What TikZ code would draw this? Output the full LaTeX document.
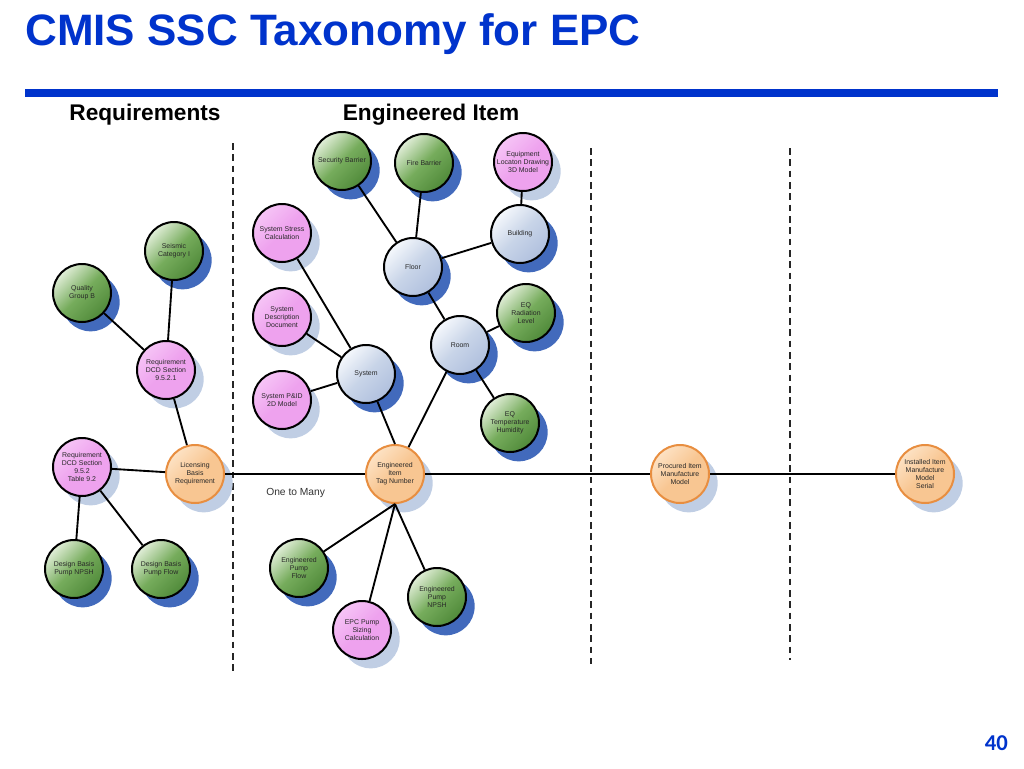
\documentclass[tikz,border=0pt]{standalone}
\usepackage{fontspec}
\setmainfont{Liberation Sans}
\newfontfamily\numfont{Carlito}
\usepackage{tikz}
\usetikzlibrary{shadows}

\definecolor{titleblue}{RGB}{0,51,204}
\definecolor{greenlight}{RGB}{225,238,216}
\definecolor{greenmid}{RGB}{118,172,92}
\definecolor{greendark}{RGB}{80,138,58}
\definecolor{bluelight}{RGB}{245,248,252}
\definecolor{bluemid}{RGB}{200,212,232}
\definecolor{bluedark}{RGB}{176,192,222}
\definecolor{pinklight}{RGB}{246,196,246}
\definecolor{pinkmid}{RGB}{238,162,238}
\definecolor{orangelight}{RGB}{253,226,196}
\definecolor{orangemid}{RGB}{248,198,146}
\definecolor{orangeline}{RGB}{232,142,64}
\definecolor{shadowdark}{RGB}{66,106,188}
\definecolor{shadowlight}{RGB}{192,206,228}
\definecolor{nodetext}{RGB}{40,40,40}

\begin{document}
\begin{tikzpicture}
      [x=0.75pt,y=-0.75pt,
       main node/.style={circle,draw,line width=1.5pt,minimum size=43.5pt,inner sep=0pt,align=center,
         text=nodetext,font=\fontsize{5.2}{6}\selectfont},
       green node/.style={main node,top color=greenlight,bottom color=greendark,middle color=greenmid,shading angle=45,
         drop shadow={shadow xshift=6.5pt,shadow yshift=-7pt,fill=shadowdark,opacity=1}},
       blue node/.style={main node,top color=bluelight,bottom color=bluedark,middle color=bluemid,shading angle=45,
         drop shadow={shadow xshift=6.5pt,shadow yshift=-7pt,fill=shadowdark,opacity=1}},
       pink node/.style={main node,top color=pinklight,bottom color=pinkmid,middle color=pinkmid,shading angle=45,
         drop shadow={shadow xshift=6.5pt,shadow yshift=-7pt,fill=shadowlight,opacity=1}},
       orange node/.style={main node,draw=orangeline,top color=orangelight,bottom color=orangemid,middle color=orangemid,shading angle=45,
         drop shadow={shadow xshift=6.5pt,shadow yshift=-7pt,fill=shadowlight,opacity=1}},
       link/.style={line width=1.4pt},
       divider/.style={line width=1.1pt,dash pattern=on 5pt off 3.5pt,black!85}]
        \useasboundingbox (0,0) rectangle (1024,768);

        % heading
        \node[anchor=base west,inner sep=0pt,text=titleblue,font=\fontsize{33}{38}\selectfont\bfseries] (title) at (25,45) {CMIS SSC Taxonomy for EPC};
        \fill[titleblue] (25,89) rectangle (998,97);
        \node[anchor=base,inner sep=0pt,font=\fontsize{17}{20}\selectfont\bfseries] (reqhead) at (145,120) {Requirements};
        \node[anchor=base,inner sep=0pt,font=\fontsize{17}{20}\selectfont\bfseries] (enghead) at (431,120) {Engineered Item};

        % column dividers
        \draw[divider] (233,143) -- (233,672);
        \draw[divider] (591,148) -- (591,664);
        \draw[divider] (790,148) -- (790,660);

        % requirements
        \node[green node] (seis) at (174,251) {Seismic\\Category I};
        \node[green node] (qual) at (82,293) {Quality\\Group B};
        \node[pink node] (reqa) at (166,370) {Requirement\\DCD Section\\9.5.2.1};
        \node[pink node] (reqb) at (82,467) {Requirement\\DCD Section\\9.5.2\\Table 9.2};
        \node[orange node] (lic) at (195,474) {Licensing\\Basis\\Requirement};
        \node[green node] (dbnpsh) at (74,569) {Design Basis\\Pump NPSH};
        \node[green node] (dbflow) at (161,569) {Design Basis\\Pump Flow};

        % engineered item
        \node[green node] (sec) at (342,161) {Security Barrier};
        \node[green node] (fire) at (424,163) {Fire Barrier};
        \node[pink node] (equip) at (523,162) {Equipment\\Locaton Drawing\\3D Model};
        \node[pink node] (stress) at (282,233) {System Stress\\Calculation};
        \node[blue node] (floor) at (413,267) {Floor};
        \node[blue node] (bldg) at (520,234) {Building};
        \node[green node] (rad) at (526,313) {EQ\\Radiation\\Level};
        \node[blue node] (room) at (460,345) {Room};
        \node[pink node] (sdd) at (282,317) {System\\Description\\Document};
        \node[blue node] (sys) at (366,374) {System};
        \node[pink node] (pid) at (282,400) {System P\&ID\\2D Model};
        \node[green node] (temp) at (510,423) {EQ\\Temperature\\Humidity};
        \node[orange node] (tag) at (395,474) {Engineered\\Item\\Tag Number};
        \node[green node] (epflow) at (299,568) {Engineered\\Pump\\Flow};
        \node[pink node] (sizing) at (362,630) {EPC Pump\\Sizing\\Calculation};
        \node[green node] (epnpsh) at (437,597) {Engineered\\Pump\\NPSH};
        \node[anchor=base west,inner sep=0pt,text=black!80,font=\fontsize{7.7}{9}\selectfont] (many) at (266,495) {One to Many};

        % procured and installed
        \node[orange node] (proc) at (680,474) {Procured Item\\Manufacture\\Model};
        \node[orange node] (inst) at (925,474) {Installed Item\\Manufacture\\Model\\Serial};

        \node[anchor=base east,inner sep=0pt,text=titleblue,font=\numfont\fontsize{17}{20}\selectfont\bfseries] (page) at (1008,750) {40};

        % links
        \draw[link] (qual) -- (reqa);
        \draw[link] (seis) -- (reqa);
        \draw[link] (reqa) -- (lic);
        \draw[link] (reqb) -- (lic);
        \draw[link] (reqb) -- (dbnpsh);
        \draw[link] (reqb) -- (dbflow);
        \draw[link] (lic) -- (tag) -- (proc) -- (inst);
        \draw[link] (sys) -- (tag.north);
        \draw[link] (room) -- (tag);
        \draw[link] (stress) -- (sys);
        \draw[link] (sdd) -- (sys);
        \draw[link] (pid) -- (sys);
        \draw[link] (floor) -- (room);
        \draw[link] (rad) -- (room);
        \draw[link] (temp) -- (room);
        \draw[link] (sec) -- (floor);
        \draw[link] (fire) -- (floor);
        \draw[link] (bldg) -- (floor);
        \draw[link] (equip) -- (bldg);
        \draw[link] (tag.south) -- (epflow);
        \draw[link] (tag.south) -- (sizing);
        \draw[link] (tag.south) -- (epnpsh);

      \end{tikzpicture}
\end{document}
